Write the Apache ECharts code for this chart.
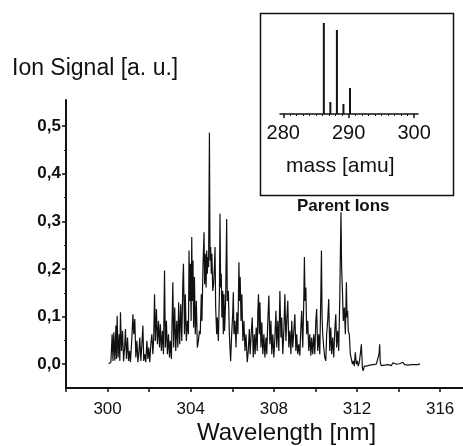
<!DOCTYPE html>
<html><head><meta charset="utf-8">
<script src="https://cdn.jsdelivr.net/npm/echarts@6/dist/echarts.min.js"></script>
<style>html,body{margin:0;padding:0;background:#fff}#c{width:463px;height:446px}</style>
</head><body><div id="c"></div>
<script>
// Main spectrum: wavelength [nm] and ion signal [a. u.]
const wavelength = [
300.05,300.16,300.22,300.26,300.30,300.35,300.40,300.43,300.46,300.51,300.56,300.59,300.62,300.67,300.72,300.77,300.82,300.86,300.91,300.96,
301.01,301.06,301.10,301.17,301.22,301.26,301.31,301.36,301.41,301.46,301.50,301.55,301.60,301.65,301.70,301.74,301.79,301.84,301.89,301.94,
301.98,302.03,302.08,302.13,302.18,302.22,302.26,302.30,302.35,302.40,302.45,302.50,302.54,302.59,302.64,302.69,302.74,302.78,302.83,302.88,
302.93,302.98,303.02,303.07,303.14,303.18,303.23,303.28,303.33,303.38,303.42,303.47,303.52,303.57,303.62,303.65,303.70,303.74,303.79,303.84,
303.89,303.92,303.95,303.98,304.02,304.05,304.08,304.11,304.14,304.18,304.22,304.27,304.32,304.37,304.42,304.46,304.51,304.54,304.59,304.64,
304.67,304.70,304.74,304.77,304.80,304.83,304.86,304.90,304.93,304.96,304.99,305.02,305.06,305.10,305.14,305.17,305.20,305.25,305.28,305.33,
305.38,305.41,305.44,305.47,305.50,305.54,305.57,305.60,305.63,305.68,305.73,305.76,305.81,305.86,305.92,305.97,306.02,306.05,306.08,306.13,
306.18,306.22,306.27,306.32,306.35,306.38,306.42,306.46,306.51,306.56,306.61,306.66,306.72,306.77,306.82,306.86,306.91,306.96,307.01,307.06,
307.10,307.15,307.20,307.23,307.26,307.30,307.33,307.38,307.42,307.47,307.52,307.57,307.62,307.66,307.71,307.76,307.81,307.86,307.90,307.95,
308.00,308.05,308.10,308.14,308.19,308.24,308.29,308.34,308.38,308.43,308.48,308.53,308.58,308.62,308.67,308.72,308.77,308.82,308.86,308.91,
308.96,309.01,309.06,309.10,309.15,309.20,309.25,309.30,309.34,309.39,309.44,309.47,309.50,309.54,309.58,309.63,309.68,309.73,309.78,309.82,
309.87,309.92,309.97,310.02,310.06,310.11,310.16,310.21,310.26,310.29,310.32,310.35,310.40,310.45,310.50,310.54,310.59,310.64,310.69,310.74,
310.78,310.83,310.88,310.93,310.98,311.02,311.07,311.12,311.17,311.20,311.23,311.26,311.30,311.34,311.39,311.44,311.49,311.52,311.55,311.58,
311.63,311.68,311.73,311.78,311.82,311.87,311.92,311.97,312.02,312.06,312.11,312.16,312.21,312.26,312.30,312.35,312.40,312.45,312.53,312.61,
312.69,312.77,312.85,312.93,313.01,313.06,313.09,313.12,313.17,313.25,313.33,313.41,313.49,313.57,313.65,313.73,313.81,313.89,313.97,314.05,
314.13,314.21,314.29,314.37,314.45,314.53,314.61,314.69,314.77,314.85,314.93,315.04
];
const signal = [
0.001,0.004,0.063,0.007,0.067,0.008,0.081,0.011,0.102,0.014,0.063,0.007,0.109,0.028,0.070,0.006,0.035,0.074,0.011,0.056,
0.007,0.028,0.004,0.056,0.105,0.063,0.095,0.014,0.049,0.004,0.021,0.056,0.007,0.042,0.081,0.007,0.021,0.004,0.049,0.011,
0.035,0.004,0.042,0.063,0.021,0.056,0.147,0.049,0.116,0.042,0.091,0.035,0.084,0.028,0.070,0.021,0.197,0.035,0.091,0.021,
0.063,0.014,0.049,0.011,0.172,0.035,0.119,0.028,0.091,0.035,0.130,0.042,0.126,0.049,0.168,0.211,0.063,0.147,0.049,0.091,
0.063,0.239,0.133,0.211,0.091,0.267,0.133,0.218,0.077,0.183,0.063,0.133,0.035,0.049,0.070,0.063,0.147,0.091,0.204,0.277,
0.168,0.232,0.161,0.239,0.190,0.225,0.204,0.486,0.218,0.246,0.190,0.232,0.154,0.168,0.204,0.246,0.119,0.063,0.098,0.049,
0.147,0.316,0.161,0.190,0.098,0.154,0.063,0.147,0.070,0.133,0.305,0.133,0.154,0.063,0.006,0.063,0.105,0.151,0.063,0.091,
0.035,0.109,0.063,0.214,0.133,0.183,0.091,0.147,0.049,0.091,0.028,0.063,0.004,0.028,0.074,0.021,0.063,0.098,0.014,0.063,
0.021,0.077,0.028,0.112,0.147,0.063,0.130,0.035,0.088,0.021,0.063,0.014,0.056,0.021,0.091,0.144,0.042,0.091,0.021,0.063,
0.014,0.056,0.112,0.035,0.091,0.028,0.154,0.056,0.098,0.021,0.070,0.147,0.049,0.091,0.133,0.035,0.070,0.021,0.091,0.035,
0.070,0.105,0.028,0.063,0.021,0.042,0.018,0.077,0.112,0.035,0.133,0.225,0.133,0.161,0.063,0.091,0.028,0.063,0.018,0.056,
0.021,0.063,0.021,0.091,0.116,0.028,0.063,0.021,0.147,0.239,0.098,0.063,0.035,0.014,0.007,0.063,0.091,0.137,0.028,0.077,
0.021,0.056,0.014,0.070,0.105,0.035,0.070,0.028,0.133,0.232,0.319,0.204,0.154,0.091,0.119,0.063,0.172,0.098,0.112,0.070,
0.063,0.021,0.018,0.000,0.007,-0.004,0.025,0.000,0.007,-0.004,0.004,0.021,0.042,-0.007,-0.014,-0.004,-0.007,-0.004,-0.006,-0.002,
-0.004,-0.001,-0.003,0.000,-0.003,0.021,0.042,0.003,-0.003,0.000,-0.002,0.002,-0.001,0.001,-0.003,0.003,-0.001,0.000,-0.002,0.001,
-0.002,0.004,-0.001,0.000,-0.002,0.001,-0.001,0.002,-0.001,0.001,-0.001,0.001
];
const xTickValues = [298,300,302,304,306,308,310,312,314,316];
const xLabelValues = [300,304,308,312,316];
const yLabelValues = [0,0.1,0.2,0.3,0.4,0.5];
const yMinorValues = [0.05,0.15,0.25,0.35,0.45];

// Inset: parent ion mass spectrum
const massAmu = [286.2,287.2,288.2,289.2,290.2];
const massSignal = [91,12,84,10,26];
const massLabelValues = [280,290,300];
const massMinorValues = [281,282,283,284,285,286,287,288,289,291,292,293,294,295,296,297,298,299];

const FONT = 'Liberation Sans, Arial, sans-serif';
const chart = echarts.init(document.getElementById('c'), null, {renderer:'canvas'});
const spec = wavelength.map((w,i)=>[w, signal[i]]);
const inset = massAmu.map((m,i)=>[m, massSignal[i]]);

chart.setOption({
  animation:false,
  backgroundColor:'#fff',
  title:[
    {text:'Ion Signal [a. u.]', left:12, top:57, padding:0, textStyle:{fontFamily:FONT,fontSize:23,fontWeight:'normal',color:'#111'}},
    {text:'Wavelength [nm]', left:197, top:421, padding:0, textStyle:{fontFamily:FONT,fontSize:24,fontWeight:'normal',color:'#111'}},
    {text:'mass [amu]', left:286, top:156, padding:0, textStyle:{fontFamily:FONT,fontSize:21,fontWeight:'normal',color:'#111'}},
    {text:'Parent Ions', left:297, top:198, padding:0, textStyle:{fontFamily:FONT,fontSize:17,fontWeight:'bold',color:'#111'}}
  ],
  graphic:[
    {type:'rect', left:258, top:11, shape:{width:193, height:182}, style:{fill:'none', stroke:'#111', lineWidth:1.5}, z:1}
  ],
  grid:[
    {left:66, top:100, width:397, height:288},
    {left:280, top:21, width:138, height:93}
  ],
  xAxis:[
    {type:'value', gridIndex:0, position:'bottom', min:298, max:317.1,
     axisLine:{onZero:false, lineStyle:{color:'#111', width:2}},
     axisTick:{customValues:xTickValues, length:4, lineStyle:{color:'#111', width:1.5}},
     axisLabel:{customValues:xLabelValues, margin:13, fontFamily:FONT, fontSize:17, color:'#111'},
     splitLine:{show:false}},
    {type:'value', gridIndex:1, position:'bottom', min:279.5, max:300.6,
     axisLine:{onZero:false, lineStyle:{color:'#111', width:1.5}},
     axisTick:{customValues:massLabelValues, length:4, lineStyle:{color:'#111', width:1.5}},
     axisLabel:{customValues:massLabelValues, margin:9, fontFamily:FONT, fontSize:20, color:'#111'},
     splitLine:{show:false}},
    {type:'value', gridIndex:1, position:'bottom', min:279.5, max:300.6,
     axisLine:{show:false},
     axisTick:{customValues:massMinorValues, length:2, lineStyle:{color:'#111', width:1}},
     axisLabel:{show:false}, splitLine:{show:false}}
  ],
  yAxis:[
    {type:'value', gridIndex:0, position:'left', min:-0.05, max:0.555,
     axisLine:{show:true, onZero:false, lineStyle:{color:'#111', width:2}},
     axisTick:{show:true, customValues:yLabelValues, length:4, lineStyle:{color:'#111', width:1.5}},
     axisLabel:{customValues:yLabelValues, margin:5, fontFamily:FONT, fontSize:17, fontWeight:'bold', color:'#111',
       formatter:v=>v.toFixed(1).replace('.', ',')},
     splitLine:{show:false}},
    {type:'value', gridIndex:0, position:'left', min:-0.05, max:0.555,
     axisLine:{show:false},
     axisTick:{show:true, customValues:yMinorValues, length:2, lineStyle:{color:'#111', width:1}},
     axisLabel:{show:false}, splitLine:{show:false}},
    {type:'value', gridIndex:1, min:0, max:93, show:false}
  ],
  series:[
    {type:'line', xAxisIndex:0, yAxisIndex:0, data:spec, showSymbol:false, symbol:'none',
     lineStyle:{color:'#111', width:1.2}, z:3},
    {type:'bar', xAxisIndex:1, yAxisIndex:2, data:inset, barWidth:2, itemStyle:{color:'#111'}, z:3}
  ]
});
</script></body></html>
